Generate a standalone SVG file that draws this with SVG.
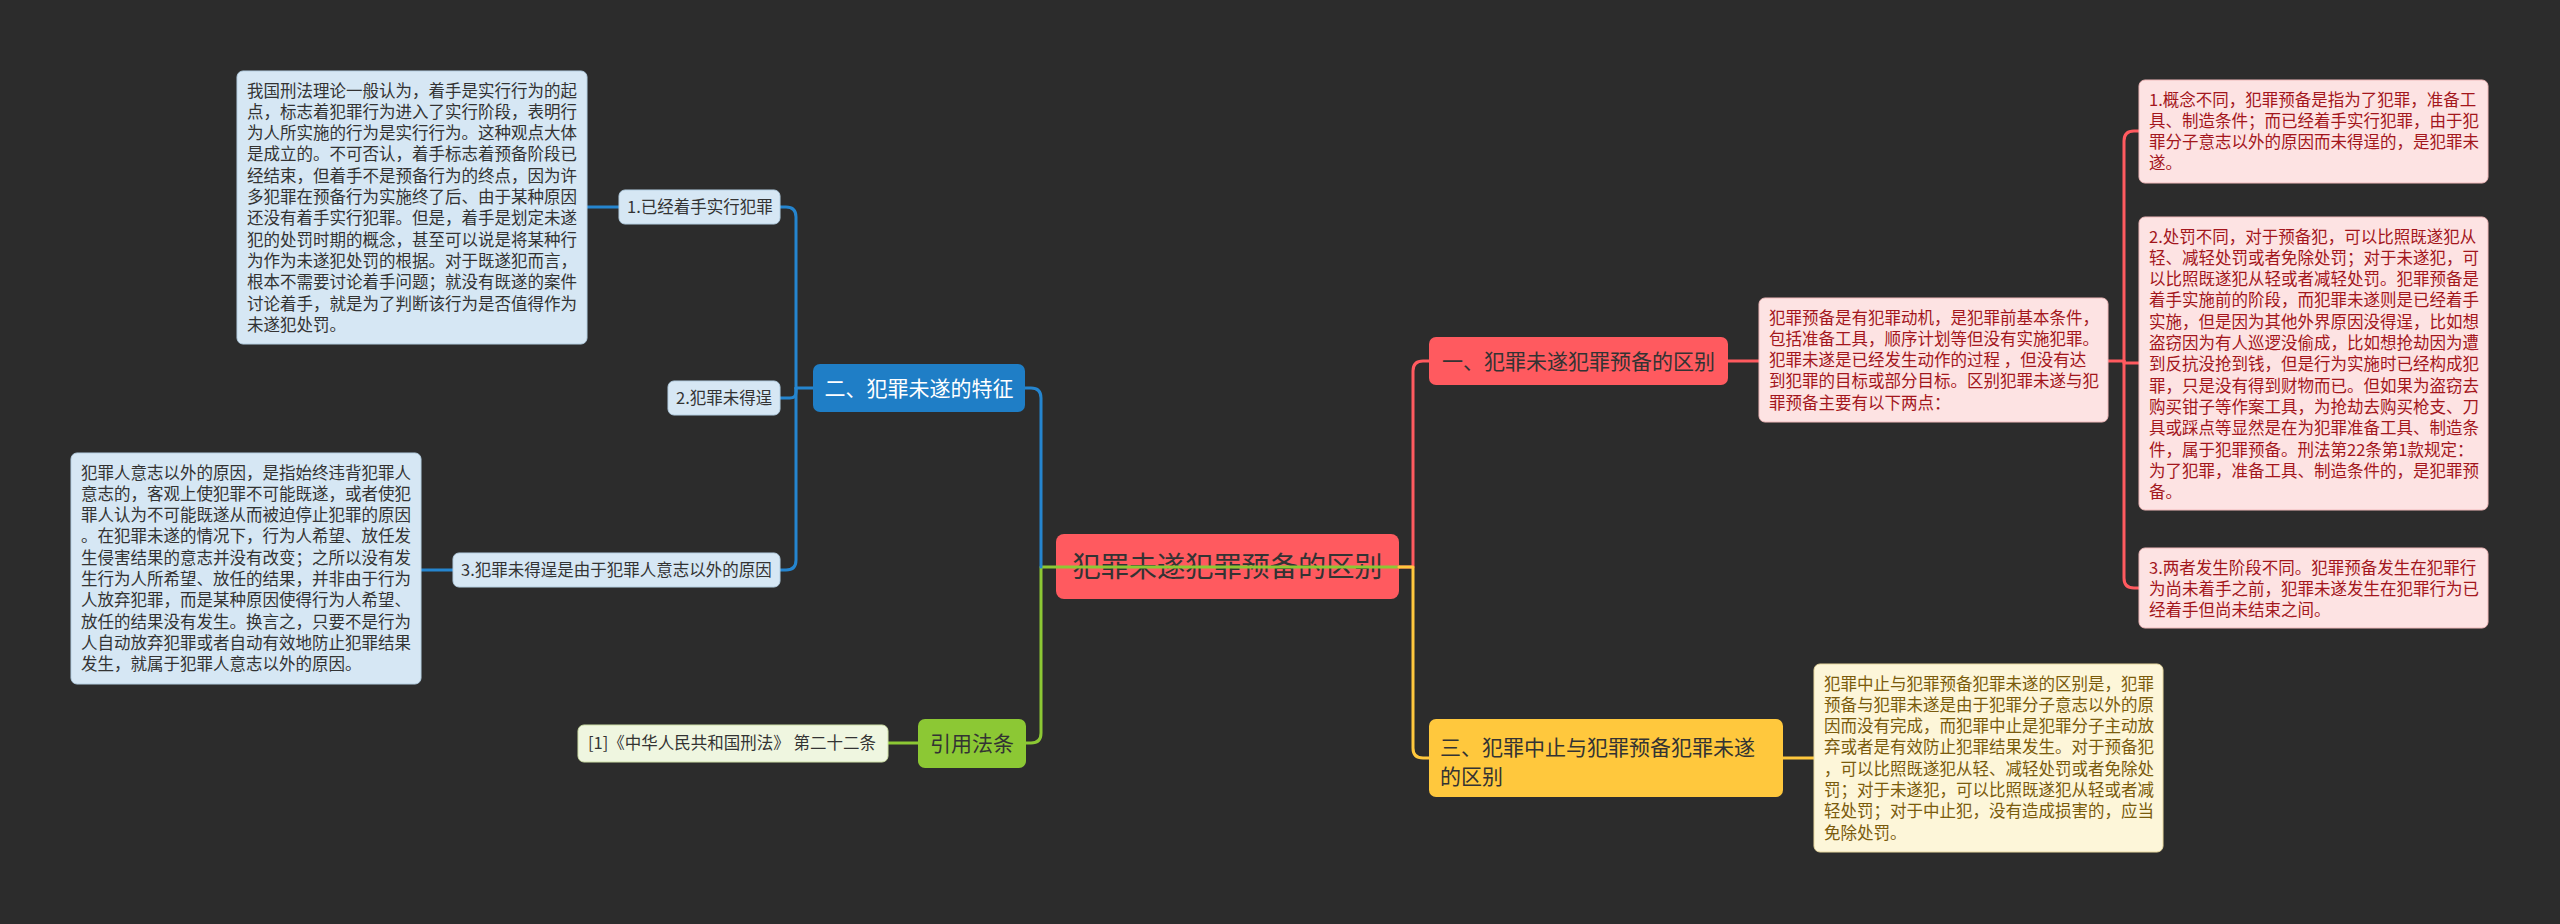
<svg xmlns="http://www.w3.org/2000/svg" width="2560" height="924" viewBox="0 0 2560 924">
<style>
text{font-family:"Noto Sans CJK SC","Liberation Sans",sans-serif;}
.t{font-size:16.5px;}
.m{font-size:21px;}
.r{font-size:28.2px;fill:#333;}
.bl{fill:#d6e7f4;stroke:#b5cfe2;stroke-width:1;}
.pk{fill:#fde3e3;stroke:#f0b9ba;stroke-width:1;}
.cr{fill:#fdf6d9;stroke:#e8d9a0;stroke-width:1;}
.gr{fill:#eff6e0;stroke:#cfe0a8;stroke-width:1;}
.dk{fill:#333;}
.rd{fill:#a3161c;}
.yl{fill:#7a5b0c;}
.c{fill:none;stroke-width:3;stroke-linecap:round;stroke-linejoin:round;}
.cb{stroke:#2585cf;}
.cg{stroke:#8cc834;}
.cy{stroke:#ffc83d;}
.cr2{stroke:#ff5a5f;}
</style>
<rect x="0" y="0" width="2560" height="924" fill="#2c2c2c"/>

<g id="root">
<rect x="1056" y="534" width="343" height="65" rx="8" fill="#ff5a5f"/>
<text class="r" x="1227.5" y="577" text-anchor="middle">犯罪未遂犯罪预备的区别</text>
</g>

<g id="connectors">
<path class="c cg" d="M1399,567 H1041 V733 Q1041,743 1031,743 H1026"/>
<path class="c cb" d="M1041,567 V398 Q1041,388 1031,388 H1025"/>
<path class="c cr2" d="M1399,567 H1413 V371 Q1413,361 1423,361 H1429"/>
<path class="c cy" d="M1399,567 H1413 V748 Q1413,758 1423,758 H1429"/>
<g style="stroke-width:2.5">
<path class="c cb" d="M813,388 H796"/>
<path class="c cb" d="M796,388 V217 Q796,207 786,207 H780"/>
<path class="c cb" d="M796,388 V392 Q796,398 790,398 H780"/>
<path class="c cb" d="M796,388 V560 Q796,570 786,570 H780"/>
<path class="c cb" d="M619,207 H587"/>
<path class="c cb" d="M453,570 H421"/>
<path class="c cg" d="M918,743 H888"/>
<path class="c cr2" d="M1728,361 H1759"/>
<path class="c cr2" d="M2108,361 H2124"/>
<path class="c cr2" d="M2124,361 V141 Q2124,131 2134,131 H2139"/>
<path class="c cr2" d="M2124,361 V363 H2139"/>
<path class="c cr2" d="M2124,361 V578 Q2124,588 2134,588 H2139"/>
<path class="c cy" d="M1783,758 H1814"/>
</g>
</g>

<g id="n2">
<rect x="813" y="364" width="212" height="48" rx="7" fill="#1f7ec6"/>
<text class="m" x="919" y="396" text-anchor="middle" fill="#fff">二、犯罪未遂的特征</text>
</g>
<g id="n2-1">
<rect class="bl" x="619" y="190" width="161" height="34" rx="6"/>
<text class="t dk" x="627" y="213">1.已经着手实行犯罪</text>
</g>
<g id="n2-1-note">
<rect class="bl" x="237" y="71" width="350" height="273" rx="6"/>
<text class="t dk">
<tspan x="247" y="96.5">我国刑法理论一般认为，着手是实行行为的起</tspan>
<tspan x="247" y="117.8">点，标志着犯罪行为进入了实行阶段，表明行</tspan>
<tspan x="247" y="139.1">为人所实施的行为是实行行为。这种观点大体</tspan>
<tspan x="247" y="160.4">是成立的。不可否认，着手标志着预备阶段已</tspan>
<tspan x="247" y="181.7">经结束，但着手不是预备行为的终点，因为许</tspan>
<tspan x="247" y="203">多犯罪在预备行为实施终了后、由于某种原因</tspan>
<tspan x="247" y="224.3">还没有着手实行犯罪。但是，着手是划定未遂</tspan>
<tspan x="247" y="245.6">犯的处罚时期的概念，甚至可以说是将某种行</tspan>
<tspan x="247" y="266.9">为作为未遂犯处罚的根据。对于既遂犯而言，</tspan>
<tspan x="247" y="288.2">根本不需要讨论着手问题；就没有既遂的案件</tspan>
<tspan x="247" y="309.5">讨论着手，就是为了判断该行为是否值得作为</tspan>
<tspan x="247" y="330.8">未遂犯处罚。</tspan>
</text>
</g>
<g id="n2-2">
<rect class="bl" x="668" y="381" width="112" height="34" rx="6"/>
<text class="t dk" x="676" y="404">2.犯罪未得逞</text>
</g>
<g id="n2-3">
<rect class="bl" x="453" y="553" width="327" height="34" rx="6"/>
<text class="t dk" x="461" y="576">3.犯罪未得逞是由于犯罪人意志以外的原因</text>
</g>
<g id="n2-3-note">
<rect class="bl" x="71" y="453" width="350" height="231" rx="6"/>
<text class="t dk">
<tspan x="81" y="478.5">犯罪人意志以外的原因，是指始终违背犯罪人</tspan>
<tspan x="81" y="499.8">意志的，客观上使犯罪不可能既遂，或者使犯</tspan>
<tspan x="81" y="521.1">罪人认为不可能既遂从而被迫停止犯罪的原因</tspan>
<tspan x="81" y="542.4">。在犯罪未遂的情况下，行为人希望、放任发</tspan>
<tspan x="81" y="563.7">生侵害结果的意志并没有改变；之所以没有发</tspan>
<tspan x="81" y="585">生行为人所希望、放任的结果，并非由于行为</tspan>
<tspan x="81" y="606.3">人放弃犯罪，而是某种原因使得行为人希望、</tspan>
<tspan x="81" y="627.6">放任的结果没有发生。换言之，只要不是行为</tspan>
<tspan x="81" y="648.9">人自动放弃犯罪或者自动有效地防止犯罪结果</tspan>
<tspan x="81" y="670.2">发生，就属于犯罪人意志以外的原因。</tspan>
</text>
</g>

<g id="n-law">
<rect x="918" y="719" width="108" height="49" rx="7" fill="#8cc834"/>
<text class="m dk" x="972" y="751" text-anchor="middle">引用法条</text>
</g>
<g id="n-law-1">
<rect class="gr" x="578" y="725" width="310" height="37" rx="6"/>
<text class="t dk" x="588" y="749">[1]《中华人民共和国刑法》 第二十二条</text>
</g>

<g id="n1">
<rect x="1429" y="337" width="299" height="48" rx="7" fill="#ff5a5f"/>
<text class="m dk" x="1578.5" y="369" text-anchor="middle">一、犯罪未遂犯罪预备的区别</text>
</g>
<g id="n1-note">
<rect class="pk" x="1759" y="298" width="349" height="124" rx="6"/>
<text class="t rd">
<tspan x="1769" y="323.5">犯罪预备是有犯罪动机，是犯罪前基本条件，</tspan>
<tspan x="1769" y="344.8">包括准备工具，顺序计划等但没有实施犯罪。</tspan>
<tspan x="1769" y="366.1">犯罪未遂是已经发生动作的过程 ，但没有达</tspan>
<tspan x="1769" y="387.4">到犯罪的目标或部分目标。区别犯罪未遂与犯</tspan>
<tspan x="1769" y="408.7">罪预备主要有以下两点：</tspan>
</text>
</g>
<g id="n1-1">
<rect class="pk" x="2139" y="80" width="349" height="103" rx="6"/>
<text class="t rd">
<tspan x="2149" y="105.5">1.概念不同，犯罪预备是指为了犯罪，准备工</tspan>
<tspan x="2149" y="126.8">具、制造条件；而已经着手实行犯罪，由于犯</tspan>
<tspan x="2149" y="148.1">罪分子意志以外的原因而未得逞的，是犯罪未</tspan>
<tspan x="2149" y="169.4">遂。</tspan>
</text>
</g>
<g id="n1-2">
<rect class="pk" x="2139" y="217" width="349" height="293" rx="6"/>
<text class="t rd">
<tspan x="2149" y="242.5">2.处罚不同，对于预备犯，可以比照既遂犯从</tspan>
<tspan x="2149" y="263.8">轻、减轻处罚或者免除处罚；对于未遂犯，可</tspan>
<tspan x="2149" y="285.1">以比照既遂犯从轻或者减轻处罚。犯罪预备是</tspan>
<tspan x="2149" y="306.4">着手实施前的阶段，而犯罪未遂则是已经着手</tspan>
<tspan x="2149" y="327.7">实施，但是因为其他外界原因没得逞，比如想</tspan>
<tspan x="2149" y="349">盗窃因为有人巡逻没偷成，比如想抢劫因为遭</tspan>
<tspan x="2149" y="370.3">到反抗没抢到钱，但是行为实施时已经构成犯</tspan>
<tspan x="2149" y="391.6">罪，只是没有得到财物而已。但如果为盗窃去</tspan>
<tspan x="2149" y="412.9">购买钳子等作案工具，为抢劫去购买枪支、刀</tspan>
<tspan x="2149" y="434.2">具或踩点等显然是在为犯罪准备工具、制造条</tspan>
<tspan x="2149" y="455.5">件，属于犯罪预备。刑法第22条第1款规定：</tspan>
<tspan x="2149" y="476.8">为了犯罪，准备工具、制造条件的，是犯罪预</tspan>
<tspan x="2149" y="498.1">备。</tspan>
</text>
</g>
<g id="n1-3">
<rect class="pk" x="2139" y="548" width="349" height="80" rx="6"/>
<text class="t rd">
<tspan x="2149" y="573.5">3.两者发生阶段不同。犯罪预备发生在犯罪行</tspan>
<tspan x="2149" y="594.8">为尚未着手之前，犯罪未遂发生在犯罪行为已</tspan>
<tspan x="2149" y="616.1">经着手但尚未结束之间。</tspan>
</text>
</g>

<g id="n3">
<rect x="1429" y="719" width="354" height="78" rx="7" fill="#ffc83d"/>
<text class="m dk">
<tspan x="1440" y="755">三、犯罪中止与犯罪预备犯罪未遂</tspan>
<tspan x="1440" y="784">的区别</tspan>
</text>
</g>
<g id="n3-note">
<rect class="cr" x="1814" y="664" width="349" height="188" rx="6"/>
<text class="t yl">
<tspan x="1824" y="689.5">犯罪中止与犯罪预备犯罪未遂的区别是，犯罪</tspan>
<tspan x="1824" y="710.8">预备与犯罪未遂是由于犯罪分子意志以外的原</tspan>
<tspan x="1824" y="732.1">因而没有完成，而犯罪中止是犯罪分子主动放</tspan>
<tspan x="1824" y="753.4">弃或者是有效防止犯罪结果发生。对于预备犯</tspan>
<tspan x="1824" y="774.7">，可以比照既遂犯从轻、减轻处罚或者免除处</tspan>
<tspan x="1824" y="796">罚；对于未遂犯，可以比照既遂犯从轻或者减</tspan>
<tspan x="1824" y="817.3">轻处罚；对于中止犯，没有造成损害的，应当</tspan>
<tspan x="1824" y="838.6">免除处罚。</tspan>
</text>
</g>
</svg>
